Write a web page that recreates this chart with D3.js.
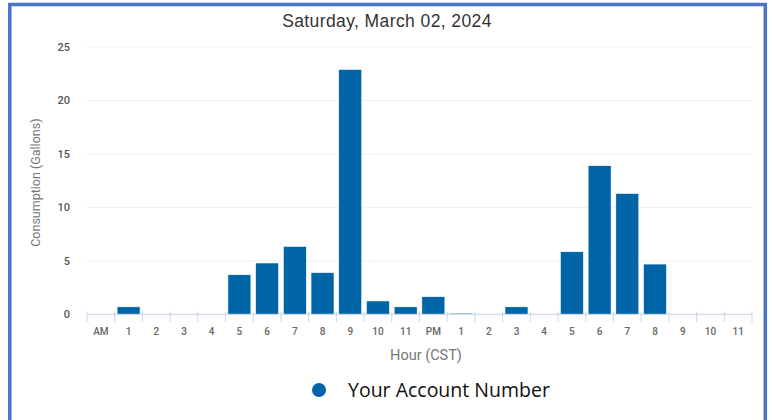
<!DOCTYPE html>
<html>
<head>
<meta charset="utf-8">
<script src="https://cdn.jsdelivr.net/npm/d3@7"></script>
<style>
  body { margin: 0; background: #fff; }
  svg { display: block; font-family: Roboto, "Noto Sans", sans-serif; }
</style>
</head>
<body>
<div id="chart"></div>
<script>
// hourly water use, one bar per hour
const hours = ["AM", "1", "2", "3", "4", "5", "6", "7", "8", "9", "10", "11",
               "PM", "1", "2", "3", "4", "5", "6", "7", "8", "9", "10", "11"];
const gallons = [0, 0.7, 0, 0, 0, 3.7, 4.8, 6.35, 3.9, 22.9, 1.25, 0.7,
                 1.65, 0.1, 0, 0.7, 0, 5.85, 13.9, 11.3, 4.7, 0, 0, 0];
const yTicks = [0, 5, 10, 15, 20, 25];

const W = 772, H = 420;
const margin = { top: 47, right: 20, bottom: 106, left: 87 };
const width = 752 - margin.left;
const height = 314.3 - margin.top;

const svg = d3.select("#chart").append("svg")
    .attr("width", W)
    .attr("height", H);

// blue frame (no bottom edge)
svg.append("path")
    .attr("d", "M9.8,420 V4.5 H765.3 V420")
    .attr("fill", "none")
    .attr("stroke", "#4a74c9")
    .attr("stroke-width", 3.5);

const g = svg.append("g")
    .attr("transform", `translate(${margin.left},${margin.top})`);

// index keys so repeated hour labels stay separate
const x = d3.scaleBand()
    .domain(hours.map((d, i) => i))
    .range([0, width])
    .paddingInner(0.17)
    .paddingOuter(0.085);

const y = d3.scaleLinear()
    .domain([0, 25])
    .range([height, 0]);

// grid lines
g.selectAll(".grid")
    .data(yTicks)
    .enter()
    .append("line")
    .attr("x1", 0)
    .attr("x2", width)
    .attr("y1", d => y(d))
    .attr("y2", d => y(d))
    .attr("stroke", "#efefef")
    .attr("stroke-width", 1);

// y tick labels
g.selectAll(".ylab")
    .data(yTicks)
    .enter()
    .append("text")
    .attr("x", -17)
    .attr("y", d => y(d))
    .attr("dy", "0.35em")
    .attr("text-anchor", "end")
    .style("font-size", "11px")
    .style("font-weight", "500")
    .style("fill", "#555")
    .text(d => d);

// bars
g.selectAll(".bar")
    .data(gallons)
    .enter()
    .append("rect")
    .attr("x", (d, i) => x(i))
    .attr("y", d => y(d))
    .attr("width", x.bandwidth())
    .attr("height", d => height - y(d))
    .attr("fill", "#0065a6")
    .attr("stroke", "#fff")
    .attr("stroke-width", 0.6);

// x axis: band edges as ticks
const step = x.step();
const xAxis = g.append("g").attr("transform", `translate(0,${height})`);
xAxis.append("line")
    .attr("x1", 0).attr("x2", width)
    .attr("stroke", "#ccd6eb");
xAxis.selectAll(".tick")
    .data(d3.range(hours.length + 1))
    .enter()
    .append("line")
    .attr("x1", i => i * step)
    .attr("x2", i => i * step)
    .attr("y1", -3)
    .attr("y2", 8)
    .attr("stroke", "#ccd6eb");
xAxis.selectAll(".xlab")
    .data(hours)
    .enter()
    .append("text")
    .attr("x", (d, i) => x(i) + x.bandwidth() / 2)
    .attr("y", 17.5)
    .attr("dy", "0.35em")
    .attr("text-anchor", "middle")
    .style("font-size", "10px")
    .style("font-weight", "500")
    .style("fill", "#666")
    .text(d => d);

// axis titles
svg.append("text")
    .attr("x", 426)
    .attr("y", 355)
    .attr("dy", "0.35em")
    .attr("text-anchor", "middle")
    .style("font-size", "14.5px")
    .style("fill", "#777")
    .text("Hour (CST)");

svg.append("text")
    .attr("transform", `translate(36,${margin.top + height / 2 + 2}) rotate(-90)`)
    .attr("dy", "0.35em")
    .attr("text-anchor", "middle")
    .style("font-size", "12.5px")
    .style("fill", "#777")
    .text("Consumption (Gallons)");

// chart title
svg.append("text")
    .attr("x", 387)
    .attr("y", 21)
    .attr("dy", "0.35em")
    .attr("text-anchor", "middle")
    .style("font-family", "'Liberation Sans', Arial, sans-serif")
    .style("font-size", "17.5px")
    .style("letter-spacing", "0.4px")
    .style("fill", "#333")
    .text("Saturday, March 02, 2024");

// legend
svg.append("circle")
    .attr("cx", 319)
    .attr("cy", 390)
    .attr("r", 7)
    .attr("fill", "#0065a6");
svg.append("text")
    .attr("x", 348)
    .attr("y", 390)
    .attr("dy", "0.35em")
    .style("font-family", "'Open Sans', sans-serif")
    .style("font-size", "19.5px")
    .style("fill", "#111")
    .text("Your Account Number");
</script>
</body>
</html>
